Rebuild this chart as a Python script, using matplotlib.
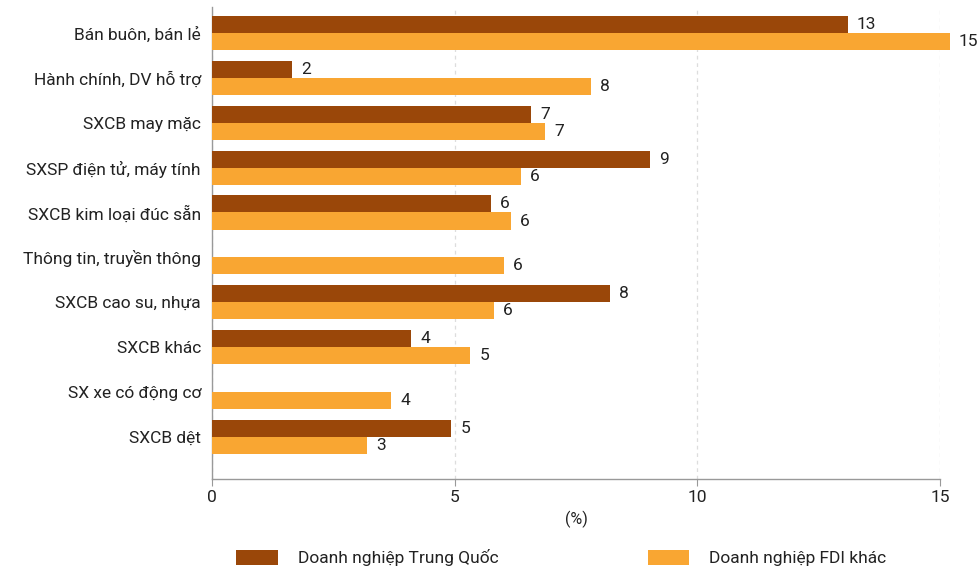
import matplotlib
matplotlib.use("Agg")
import matplotlib.pyplot as plt
import numpy as np

plt.rcParams['font.family'] = ['Roboto', 'DejaVu Sans']

categories = ["Bán buôn, bán lẻ", "Hành chính, DV hỗ trợ", "SXCB may mặc",
              "SXSP điện tử, máy tính", "SXCB kim loại đúc sẵn", "Thông tin, truyền thông",
              "SXCB cao su, nhựa", "SXCB khác", "SX xe có động cơ", "SXCB dệt"]
china = [13.1, 1.65, 6.58, 9.03, 5.75, None, 8.2, 4.1, None, 4.93]
other_fdi = [15.2, 7.8, 6.87, 6.37, 6.16, 6.02, 5.81, 5.32, 3.69, 3.2]
series_names = ["Doanh nghiệp Trung Quốc", "Doanh nghiệp FDI khác"]
xticks = [0, 5, 10, 15]
xlabel = "(%)"

c_dark = "#9A4709"
c_light = "#F9A632"
txt = "#222222"
fs = 12.5

fig = plt.figure(figsize=(9.78, 5.68), dpi=100)
ax = fig.add_axes([212/978, (568-479)/568, (940-212)/978, (479-7)/568])

y = np.arange(len(categories))
h = 0.38
cv = [np.nan if v is None else v for v in china]
b1 = ax.barh(y - h/2, cv, height=h, color=c_dark, label=series_names[0], zorder=3, clip_on=False)
b2 = ax.barh(y + h/2, other_fdi, height=h, color=c_light, label=series_names[1], zorder=3, clip_on=False)

for yi, v in zip(y, china):
    if v is not None:
        ax.annotate(f"{round(v)}", (v, yi - h/2), xytext=(6.5, 0), textcoords="offset points",
                    va="center", ha="left", fontsize=fs, color=txt, annotation_clip=False)
for yi, v in zip(y, other_fdi):
    ax.annotate(f"{round(v)}", (v, yi + h/2), xytext=(6.5, 0), textcoords="offset points",
                va="center", ha="left", fontsize=fs, color=txt, annotation_clip=False)

ax.set_xlim(0, 15)
ax.set_ylim(9.94, -0.58)
ax.set_yticks(y)
ax.set_yticklabels(categories, fontsize=fs, color=txt)
ax.set_xticks(xticks)
ax.set_xticklabels([str(t) for t in xticks], fontsize=fs, color=txt)
ax.tick_params(axis='y', length=0, pad=8)
ax.tick_params(axis='x', length=5, color="#999999", pad=3)
ax.set_xlabel(xlabel, fontsize=fs - 1, color=txt, labelpad=4)
for s in ['top', 'right']:
    ax.spines[s].set_visible(False)
for s in ['left', 'bottom']:
    ax.spines[s].set_color("#999999")
    ax.spines[s].set_linewidth(1.0)
ax.xaxis.grid(True, linestyle=(0, (3, 3)), color="#dddddd", linewidth=0.9, zorder=0)
ax.set_axisbelow(True)

fig.legend(handles=[b1, b2], loc="center left", bbox_to_anchor=(236/978, 10/568),
           ncol=2, frameon=False, fontsize=fs, handlelength=2.4, handleheight=1.0,
           handletextpad=1.15, columnspacing=8.6, borderpad=0, borderaxespad=0,
           labelcolor=txt)

fig.savefig("out.png", dpi=100)
